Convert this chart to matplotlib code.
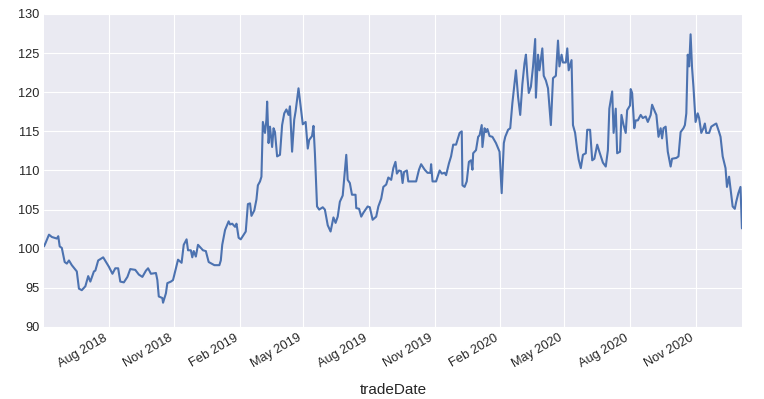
import pandas as pd
import matplotlib.pyplot as plt
import matplotlib.dates as mdates

plt.style.use('seaborn-v0_8-darkgrid')
plt.rcParams['font.family'] = ['Liberation Sans', 'DejaVu Sans']

# 读图得到的日期和数值
dates = [
    '2018-05-02', '2018-05-04', '2018-05-09', '2018-05-13', '2018-05-20', '2018-05-22',
    '2018-05-24', '2018-05-27', '2018-05-31', '2018-06-03', '2018-06-06', '2018-06-10',
    '2018-06-17', '2018-06-20', '2018-06-24', '2018-06-29', '2018-07-03', '2018-07-06',
    '2018-07-11', '2018-07-13', '2018-07-17', '2018-07-24', '2018-08-01', '2018-08-06',
    '2018-08-10', '2018-08-14', '2018-08-17', '2018-08-22', '2018-08-27', '2018-08-31',
    '2018-09-07', '2018-09-12', '2018-09-17', '2018-09-22', '2018-09-25', '2018-09-29',
    '2018-10-06', '2018-10-08', '2018-10-10', '2018-10-15', '2018-10-16', '2018-10-20',
    '2018-10-22', '2018-10-27', '2018-10-30', '2018-11-03', '2018-11-06', '2018-11-11',
    '2018-11-14', '2018-11-18', '2018-11-20', '2018-11-24', '2018-11-26', '2018-11-28',
    '2018-12-01', '2018-12-04', '2018-12-08', '2018-12-11', '2018-12-15', '2018-12-19',
    '2018-12-27', '2019-01-03', '2019-01-05', '2019-01-07', '2019-01-11', '2019-01-16',
    '2019-01-18', '2019-01-21', '2019-01-25', '2019-01-27', '2019-01-30', '2019-02-02',
    '2019-02-09', '2019-02-12', '2019-02-15', '2019-02-17', '2019-02-21', '2019-02-24',
    '2019-02-26', '2019-03-01', '2019-03-03', '2019-03-05', '2019-03-08', '2019-03-10',
    '2019-03-11', '2019-03-13', '2019-03-15', '2019-03-18', '2019-03-20', '2019-03-22',
    '2019-03-25', '2019-03-29', '2019-04-01', '2019-04-04', '2019-04-07', '2019-04-10',
    '2019-04-12', '2019-04-15', '2019-04-18', '2019-04-20', '2019-04-24', '2019-04-27',
    '2019-04-30', '2019-05-04', '2019-05-07', '2019-05-09', '2019-05-13', '2019-05-15',
    '2019-05-17', '2019-05-20', '2019-05-23', '2019-05-28', '2019-05-31', '2019-06-04',
    '2019-06-08', '2019-06-12', '2019-06-15', '2019-06-18', '2019-06-21', '2019-06-25',
    '2019-06-30', '2019-07-02', '2019-07-05', '2019-07-08', '2019-07-13', '2019-07-14',
    '2019-07-18', '2019-07-21', '2019-07-24', '2019-07-30', '2019-08-02', '2019-08-06',
    '2019-08-11', '2019-08-14', '2019-08-18', '2019-08-21', '2019-08-25', '2019-08-28',
    '2019-09-01', '2019-09-04', '2019-09-07', '2019-09-09', '2019-09-12', '2019-09-15',
    '2019-09-17', '2019-09-19', '2019-09-23', '2019-09-25', '2019-10-01', '2019-10-06',
    '2019-10-10', '2019-10-13', '2019-10-18', '2019-10-22', '2019-10-26', '2019-10-27',
    '2019-10-29', '2019-11-03', '2019-11-08', '2019-11-11', '2019-11-15', '2019-11-17',
    '2019-11-21', '2019-11-24', '2019-11-27', '2019-12-01', '2019-12-06', '2019-12-09',
    '2019-12-10', '2019-12-13', '2019-12-16', '2019-12-19', '2019-12-22', '2019-12-24',
    '2019-12-25', '2019-12-29', '2020-01-01', '2020-01-03', '2020-01-06', '2020-01-07',
    '2020-01-10', '2020-01-12', '2020-01-14', '2020-01-17', '2020-01-21', '2020-01-26',
    '2020-01-31', '2020-02-03', '2020-02-06', '2020-02-08', '2020-02-12', '2020-02-15',
    '2020-02-18', '2020-02-21', '2020-02-23', '2020-02-26', '2020-02-29', '2020-03-03',
    '2020-03-06', '2020-03-08', '2020-03-10', '2020-03-12', '2020-03-15', '2020-03-18',
    '2020-03-21', '2020-03-22', '2020-03-25', '2020-03-27', '2020-03-31', '2020-04-02',
    '2020-04-05', '2020-04-08', '2020-04-12', '2020-04-15', '2020-04-19', '2020-04-22',
    '2020-04-24', '2020-04-27', '2020-04-29', '2020-05-03', '2020-05-05', '2020-05-07',
    '2020-05-11', '2020-05-13', '2020-05-16', '2020-05-19', '2020-05-21', '2020-05-24',
    '2020-05-27', '2020-05-31', '2020-06-02', '2020-06-06', '2020-06-09', '2020-06-12',
    '2020-06-16', '2020-06-19', '2020-06-24', '2020-06-28', '2020-07-01', '2020-07-03',
    '2020-07-07', '2020-07-09', '2020-07-12', '2020-07-14', '2020-07-18', '2020-07-20',
    '2020-07-23', '2020-07-26', '2020-07-28', '2020-08-01', '2020-08-02', '2020-08-04',
    '2020-08-07', '2020-08-09', '2020-08-12', '2020-08-16', '2020-08-19', '2020-08-23',
    '2020-08-26', '2020-08-30', '2020-09-01', '2020-09-05', '2020-09-07', '2020-09-10',
    '2020-09-13', '2020-09-15', '2020-09-17', '2020-09-20', '2020-09-23', '2020-09-27',
    '2020-09-29', '2020-10-05', '2020-10-08', '2020-10-11', '2020-10-15', '2020-10-17',
    '2020-10-19', '2020-10-21', '2020-10-23', '2020-10-25', '2020-10-27', '2020-10-29',
    '2020-11-01', '2020-11-04', '2020-11-06', '2020-11-09', '2020-11-12', '2020-11-14',
    '2020-11-16', '2020-11-20', '2020-11-23', '2020-11-28', '2020-11-30', '2020-12-04',
    '2020-12-06', '2020-12-09', '2020-12-13', '2020-12-15', '2020-12-18', '2020-12-20',
    '2020-12-23', '2020-12-26', '2020-12-28', '2020-12-31', '2021-01-03', '2021-01-05',
]
values = [
    100.3, 100.7, 101.8, 101.5, 101.3, 101.6,
    100.3, 100.1, 98.3, 98.1, 98.5, 97.9,
    97.1, 94.9, 94.7, 95.2, 96.5, 95.8,
    97.1, 97.2, 98.5, 98.9, 97.7, 96.8,
    97.5, 97.5, 95.8, 95.7, 96.4, 97.4,
    97.3, 96.7, 96.4, 97.2, 97.5, 96.8,
    96.9, 96.0, 93.9, 93.7, 93.1, 94.3,
    95.6, 95.8, 96.0, 97.5, 98.6, 98.2,
    100.5, 101.2, 99.8, 99.8, 98.9, 99.7,
    99.0, 100.5, 100.1, 99.8, 99.7, 98.3,
    97.9, 97.9, 98.5, 100.5, 102.4, 103.5,
    103.1, 103.2, 102.8, 103.2, 101.4, 101.2,
    102.2, 105.7, 105.8, 104.2, 104.9, 106.3,
    108.1, 108.6, 109.2, 116.2, 114.8, 116.5,
    118.8, 113.5, 115.6, 113.0, 115.4, 114.9,
    111.8, 112.0, 115.8, 117.3, 117.8, 117.1,
    118.2, 112.4, 116.5, 117.6, 120.5, 118.2,
    115.9, 116.2, 112.8, 113.9, 114.4, 115.7,
    112.2, 105.4, 105.0, 105.3, 105.0, 103.0,
    102.2, 104.0, 103.3, 104.1, 106.0, 106.8,
    112.0, 108.8, 108.4, 106.9, 106.9, 105.2,
    105.1, 104.1, 104.6, 105.4, 105.3, 103.7,
    104.1, 105.4, 106.4, 107.9, 108.2, 109.1,
    108.8, 110.3, 111.1, 109.6, 110.0, 109.9,
    108.4, 109.8, 110.0, 108.6, 108.6, 108.6,
    110.1, 110.8, 110.1, 109.7, 109.7, 110.8,
    108.6, 108.6, 110.0, 109.6, 109.7, 109.4,
    110.9, 111.8, 113.3, 113.3, 114.8, 115.0,
    108.1, 107.9, 108.6, 111.1, 111.3, 110.1,
    112.2, 112.6, 114.3, 114.5, 115.8, 113.0,
    115.4, 114.9, 115.3, 114.4, 114.3, 113.5,
    112.4, 107.1, 113.5, 114.3, 115.2, 115.4,
    118.6, 121.1, 122.8, 119.4, 117.1, 121.0,
    123.7, 124.8, 122.1, 119.9, 120.7, 123.3,
    126.8, 119.3, 124.8, 122.8, 125.6, 122.1,
    121.5, 120.5, 115.8, 121.8, 122.1, 126.6,
    123.3, 124.8, 123.8, 123.8, 125.6, 122.8,
    124.1, 115.8, 114.8, 112.6, 111.4, 110.3,
    112.0, 112.2, 115.2, 115.2, 111.3, 111.5,
    113.3, 112.4, 111.0, 110.5, 112.6, 117.9,
    120.1, 114.8, 117.9, 112.2, 112.4, 117.1,
    115.8, 114.8, 117.7, 118.3, 120.4, 119.9,
    115.4, 116.4, 116.4, 117.1, 116.7, 116.9,
    116.2, 117.1, 118.4, 117.5, 117.1, 114.3,
    115.4, 114.1, 115.4, 115.6, 112.4, 110.5,
    111.5, 111.6, 111.8, 114.9, 115.4, 115.8,
    117.3, 124.8, 123.3, 127.4, 123.2, 120.7,
    116.2, 117.3, 116.7, 114.8, 115.4, 116.0,
    114.8, 114.8, 115.6, 115.9, 116.0, 114.9,
    114.3, 111.8, 110.3, 107.9, 109.2, 107.7,
    105.4, 105.1, 106.0, 107.1, 107.9, 102.6,
]

s = pd.Series(values, index=pd.to_datetime(dates))

fig = plt.figure(figsize=(7.64, 3.99), dpi=100)
ax = fig.add_axes([0.0576, 0.1805, 0.9135, 0.7845])
ax.plot(s.index, s.values, color='#4C72B0', lw=1.5)
ax.set_xlim(s.index[0], s.index[-1])
ax.set_ylim(90, 130)

ax.xaxis.set_major_locator(mdates.MonthLocator(bymonth=[2, 5, 8, 11]))
ax.xaxis.set_major_formatter(mdates.DateFormatter('%b %Y'))
for lab in ax.get_xticklabels():
    lab.set_rotation(30)
    lab.set_ha('right')
ax.tick_params(labelsize=9.2, colors='.15', length=0)
ax.set_xlabel('tradeDate', fontsize=11, color='.15', labelpad=9)

plt.savefig('out.png', dpi=100)
